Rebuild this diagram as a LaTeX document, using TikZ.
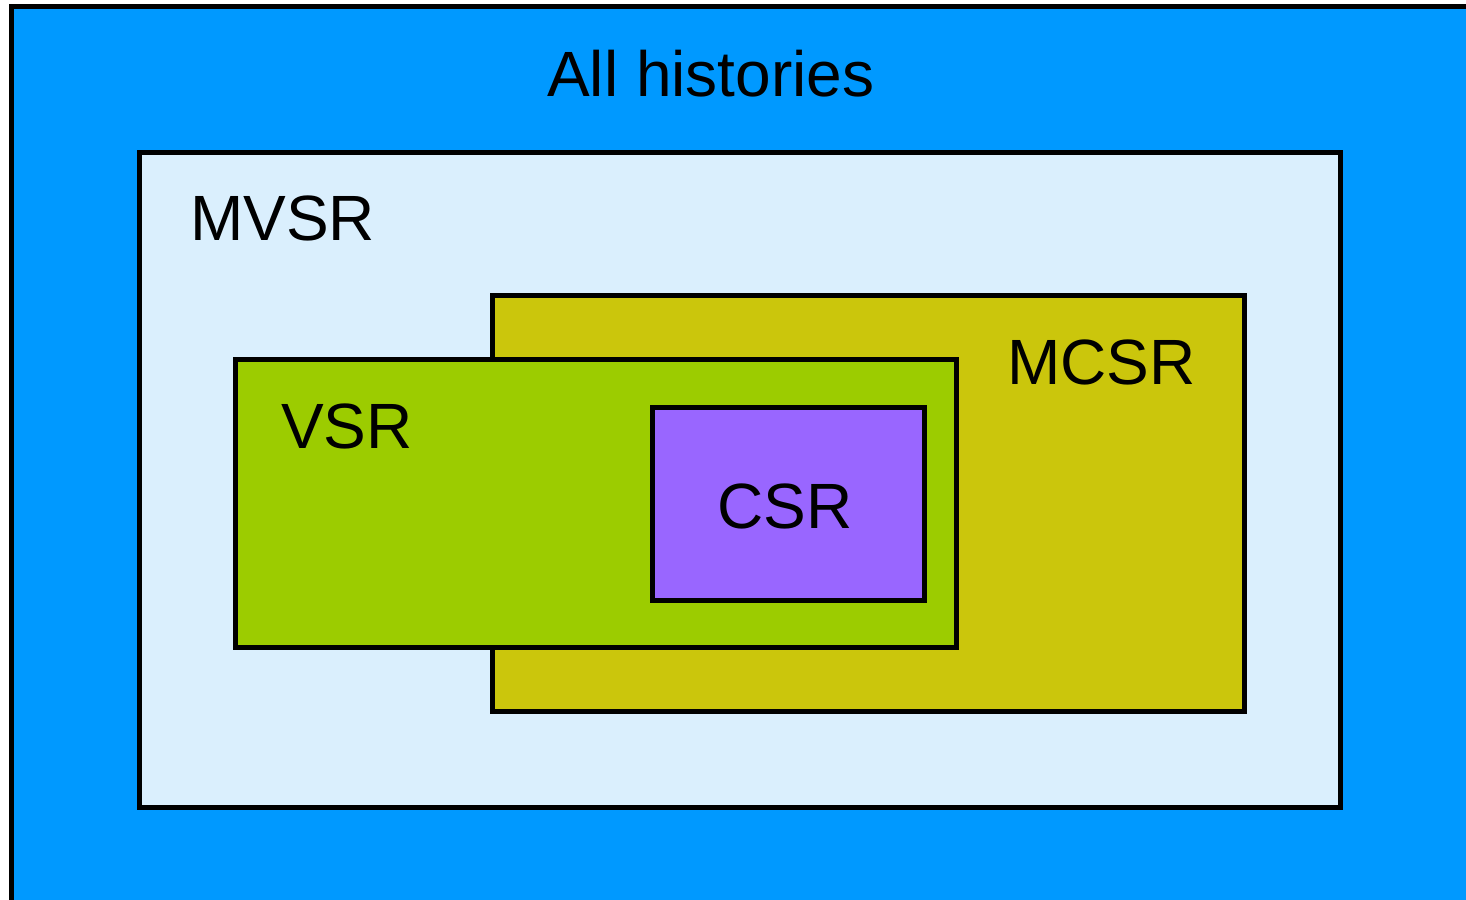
\documentclass[tikz,border=0pt]{standalone}
\usepackage{fontspec}
\setmainfont{Liberation Sans}
\definecolor{allblue}{HTML}{0099FF}
\definecolor{mvsrfill}{HTML}{DAEFFD}
\definecolor{mcsrfill}{HTML}{CBC60C}
\definecolor{vsrfill}{HTML}{9CCC00}
\definecolor{csrfill}{HTML}{9966FF}
\tikzset{
  setbox/.style={draw=black, line width=5pt},
  setlabel/.style={anchor=base west, inner sep=0pt, font=\fontsize{64}{70}\selectfont}
}
\begin{document}
\begin{tikzpicture}[x=1pt, y=-1pt]
  \useasboundingbox (0,0) rectangle (1466,899);
  \clip (0,0) rectangle (1466,899);
  % outer set: all histories (runs off the right and bottom)
  \draw[setbox, fill=allblue] (11.5,7) rectangle (1520,960);
  \node[setlabel] (allL) at (547,96) {All histories};
  % MVSR
  \draw[setbox, fill=mvsrfill] (139.5,152) rectangle (1340,807.5);
  \node[setlabel] (mvsrL) at (190,240) {MVSR};
  % MCSR
  \draw[setbox, fill=mcsrfill] (492,295.5) rectangle (1244,711);
  \node[setlabel] (mcsrL) at (1007,384) {MCSR};
  % VSR
  \draw[setbox, fill=vsrfill] (235,359) rectangle (956,647);
  \node[setlabel] (vsrL) at (281,448) {VSR};
  % CSR
  \draw[setbox, fill=csrfill] (652,407.5) rectangle (924,600);
  \node[setlabel] (csrL) at (717,528) {CSR};
\end{tikzpicture}
\end{document}
